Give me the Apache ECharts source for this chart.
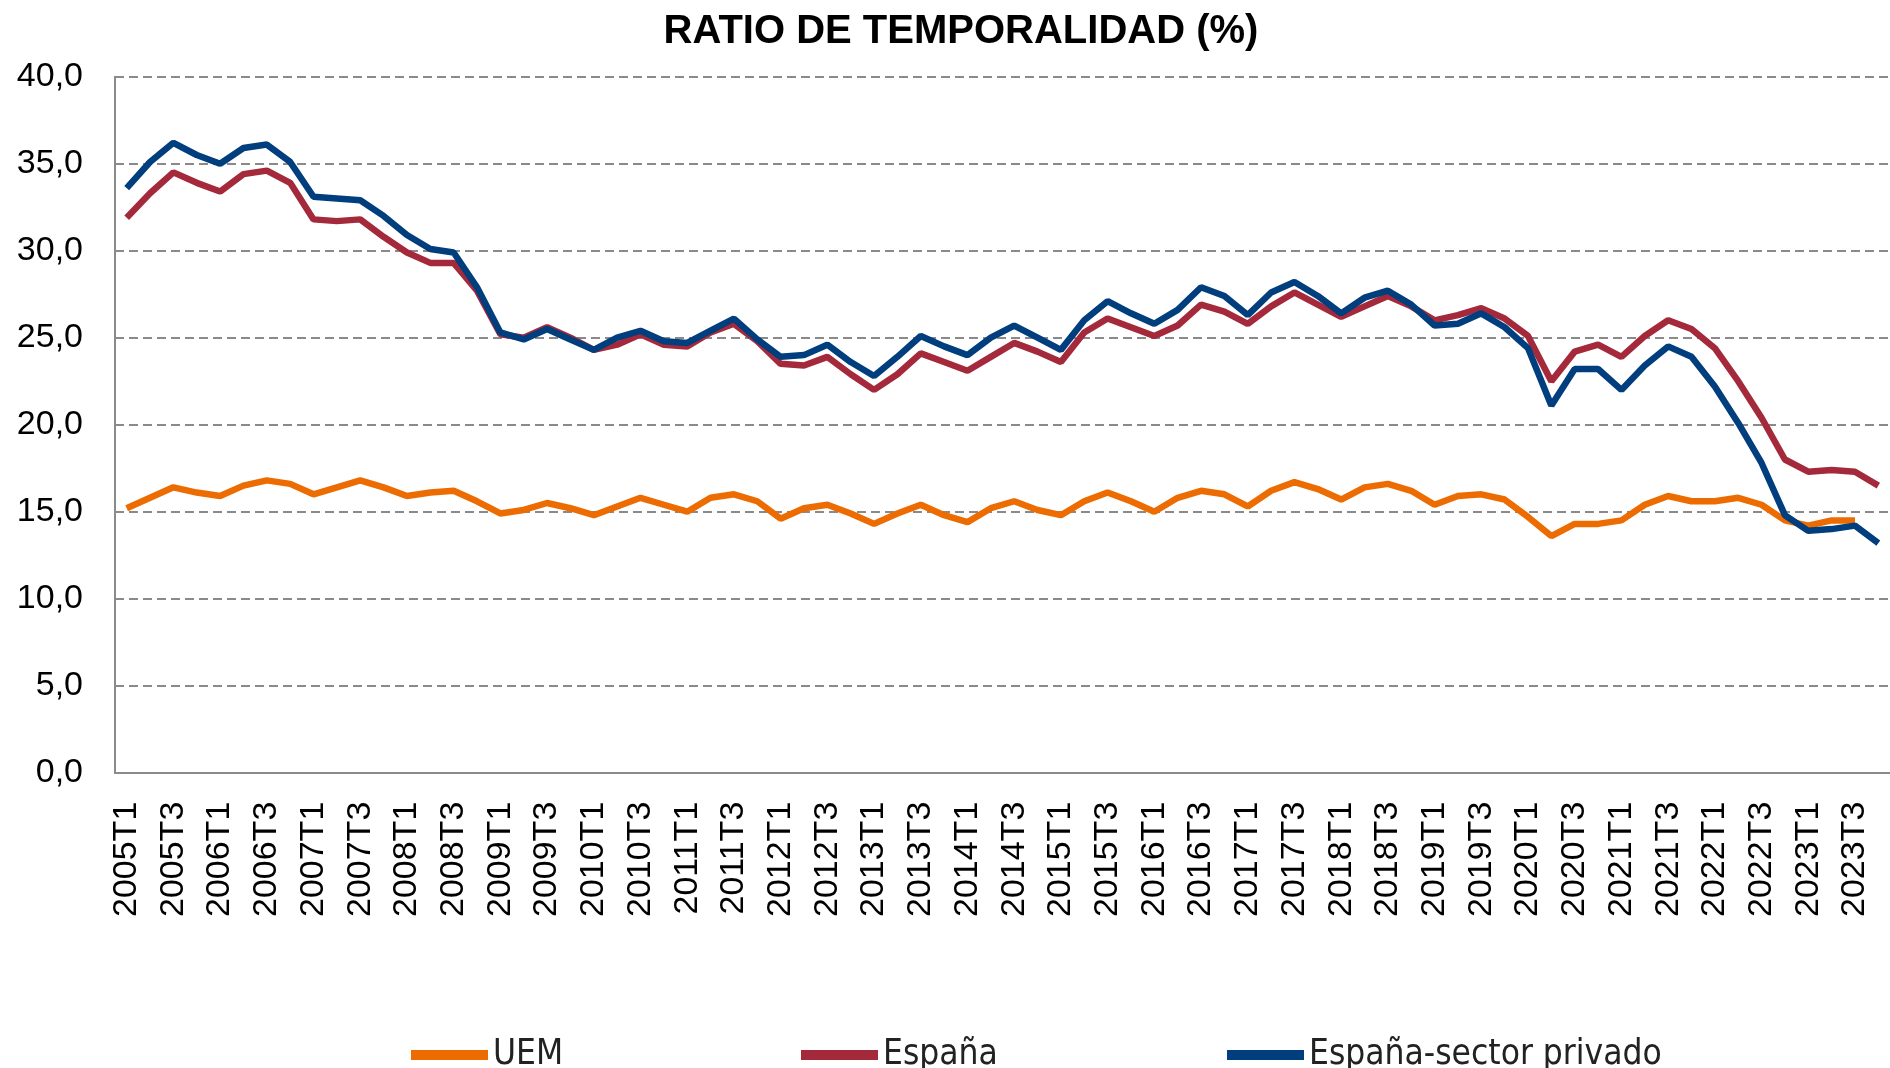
<!DOCTYPE html>
<html>
<head>
<meta charset="utf-8">
<title>Ratio de temporalidad</title>
<script src="https://cdn.jsdelivr.net/npm/echarts/dist/echarts.min.js"></script>
<style>
  html, body { margin: 0; padding: 0; background: #fff; }
  #chart { width: 1890px; height: 1068px; }
</style>
</head>
<body>
<div id="chart"></div>
<script>
// trimestres 2005T1 .. 2023T4
var years = [];
for (var y = 2005; y <= 2023; y++) years.push(y);
var quarters = ['T1', 'T2', 'T3', 'T4'];
var categories = [];
years.forEach(function (yr) {
    quarters.forEach(function (q) { categories.push(yr + q); });
});

var uem = [
    15.2, 15.8, 16.4, 16.1, 15.9, 16.5, 16.8, 16.6, 16.0, 16.4, 16.8, 16.4,
    15.9, 16.1, 16.2, 15.6, 14.9, 15.1, 15.5, 15.2, 14.8, 15.3, 15.8, 15.4,
    15.0, 15.8, 16.0, 15.6, 14.6, 15.2, 15.4, 14.9, 14.3, 14.9, 15.4, 14.8,
    14.4, 15.2, 15.6, 15.1, 14.8, 15.6, 16.1, 15.6, 15.0, 15.8, 16.2, 16.0,
    15.3, 16.2, 16.7, 16.3, 15.7, 16.4, 16.6, 16.2, 15.4, 15.9, 16.0, 15.7,
    14.7, 13.6, 14.3, 14.3, 14.5, 15.4, 15.9, 15.6, 15.6, 15.8, 15.4, 14.5,
    14.2, 14.5, 14.5
];

var espana = [
    31.9, 33.3, 34.5, 33.9, 33.4, 34.4, 34.6, 33.9, 31.8, 31.7, 31.8, 30.8,
    29.9, 29.3, 29.3, 27.7, 25.2, 25.0, 25.6, 25.0, 24.3, 24.6, 25.2, 24.6,
    24.5, 25.3, 25.8, 24.8, 23.5, 23.4, 23.9, 22.9, 22.0, 22.9, 24.1, 23.6,
    23.1, 23.9, 24.7, 24.2, 23.6, 25.3, 26.1, 25.6, 25.1, 25.7, 26.9, 26.5,
    25.8, 26.8, 27.6, 26.9, 26.2, 26.8, 27.4, 26.8, 26.0, 26.3, 26.7, 26.1,
    25.1, 22.5, 24.2, 24.6, 23.9, 25.1, 26.0, 25.5, 24.4, 22.5, 20.4, 18.0,
    17.3, 17.4, 17.3, 16.5
];

var espanaPrivado = [
    33.6, 35.1, 36.2, 35.5, 35.0, 35.9, 36.1, 35.1, 33.1, 33.0, 32.9, 32.0,
    30.9, 30.1, 29.9, 27.9, 25.3, 24.9, 25.5, 24.9, 24.3, 25.0, 25.4, 24.8,
    24.7, 25.4, 26.1, 24.9, 23.9, 24.0, 24.6, 23.6, 22.8, 23.9, 25.1, 24.5,
    24.0, 25.0, 25.7, 25.0, 24.3, 26.0, 27.1, 26.4, 25.8, 26.6, 27.9, 27.4,
    26.3, 27.6, 28.2, 27.4, 26.4, 27.3, 27.7, 26.9, 25.7, 25.8, 26.4, 25.6,
    24.4, 21.1, 23.2, 23.2, 22.0, 23.4, 24.5, 23.9, 22.2, 20.1, 17.8, 14.8,
    13.9, 14.0, 14.2, 13.2
];

var seriesNames = ['UEM', 'España', 'España-sector privado'];
var colores = ['#ED6C02', '#A3293B', '#003E7E'];

var myChart = echarts.init(document.getElementById('chart'));
var gris = '#8a8a8a';

// una leyenda por serie para colocar cada una como en el original
var legendLeft = [406, 796, 1222];
var legends = seriesNames.map(function (name, i) {
    return {
        left: legendLeft[i],
        top: 1027,
        icon: 'rect',
        itemWidth: 77,
        itemHeight: 10,
        selectedMode: false,
        textStyle: {
            fontFamily: "'Liberation Sans Narrow', 'DejaVu Sans Condensed', sans-serif",
            fontSize: 35,
            lineHeight: 46,
            color: '#222'
        },
        data: [name]
    };
});

var option = {
    animation: false,
    backgroundColor: '#ffffff',
    title: {
        text: 'RATIO DE TEMPORALIDAD (%)',
        left: 956,
        textAlign: 'center',
        top: 7,
        textStyle: {
            fontFamily: 'Liberation Sans, Arial, sans-serif',
            fontWeight: 'bold',
            fontSize: 40,
            color: '#000'
        }
    },
    legend: legends,
    grid: {
        left: 115,
        top: 76.7,
        width: 1786,
        height: 696
    },
    xAxis: {
        type: 'category',
        data: categories,
        boundaryGap: true,
        axisLine: { lineStyle: { color: gris, width: 2 } },
        axisTick: { interval: 0, inside: true, length: 10, lineStyle: { color: gris, width: 2 } },
        axisLabel: {
            interval: 1,
            rotate: 90,
            margin: 29,
            fontFamily: 'Liberation Sans, Arial, sans-serif',
            fontSize: 34,
            color: '#000'
        },
        splitLine: { show: false }
    },
    yAxis: {
        type: 'value',
        min: 0,
        max: 40,
        interval: 5,
        axisLine: { show: true, lineStyle: { color: gris, width: 2 } },
        axisTick: { show: false },
        axisLabel: {
            margin: 32,
            fontFamily: 'Liberation Sans, Arial, sans-serif',
            fontSize: 34,
            color: '#000',
            formatter: function (v) { return v.toFixed(1).replace('.', ','); }
        },
        splitLine: { lineStyle: { color: gris, width: 2, type: [9, 5] } }
    },
    series: [
        {
            name: seriesNames[0],
            type: 'line',
            data: uem,
            symbol: 'none',
            color: colores[0],
            lineStyle: { width: 6.5, color: colores[0] }
        },
        {
            name: seriesNames[1],
            type: 'line',
            data: espana,
            symbol: 'none',
            color: colores[1],
            lineStyle: { width: 6.5, color: colores[1] }
        },
        {
            name: seriesNames[2],
            type: 'line',
            data: espanaPrivado,
            symbol: 'none',
            color: colores[2],
            lineStyle: { width: 6.5, color: colores[2] }
        }
    ]
};
myChart.setOption(option);
</script>
</body>
</html>
